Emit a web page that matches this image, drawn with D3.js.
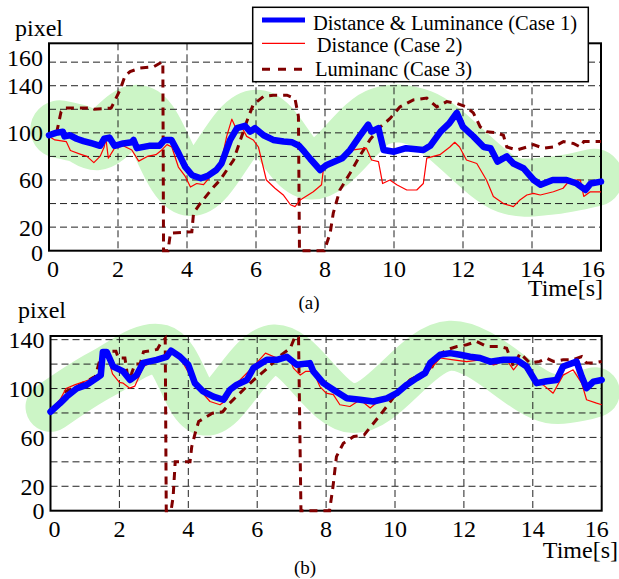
<!DOCTYPE html>
<html>
<head>
<meta charset="utf-8">
<script src="https://cdn.jsdelivr.net/npm/d3@7"></script>
<style>
  html, body { margin: 0; padding: 0; background: #fff; }
  svg { display: block; }
</style>
</head>
<body>
<svg id="chart" width="619" height="579" font-family="'Liberation Serif', 'DejaVu Serif', serif"></svg>
<script>
// ---------------- DATA ----------------
const timeTicks = [0, 2, 4, 6, 8, 10, 12, 14, 16];
const gridA = [20, 40, 60, 80, 100, 120, 140, 160];
const gridB = [20, 40, 60, 80, 100, 120, 140];
const yLabelsA = [160, 140, 100, 60, 20, 0];
const yLabelsB = [140, 100, 60, 20, 0];
const seriesNames = ["Distance & Luminance (Case 1)", "Distance (Case 2)", "Luminanc (Case 3)"];

// Panel (a)
const a1 = [[0,98],[0.2,100],[0.4,101],[0.45,97],[0.6,98],[0.8,95],[1.0,93],[1.25,91],[1.48,89],[1.6,95],[1.75,96],[1.9,89],[2.15,91],[2.4,92],[2.45,94],[2.55,87],[2.9,89],[3.2,89],[3.35,94],[3.55,94],[3.75,83],[3.95,71],[4.15,64],[4.4,61.5],[4.6,63.5],[4.85,68.5],[5.0,74],[5.25,94],[5.45,104],[5.68,106],[5.83,101],[5.97,104],[6.22,98],[6.5,94],[6.8,92.6],[7.05,92],[7.25,89],[7.4,84],[7.57,78],[7.86,68.5],[8.05,72.8],[8.5,78.5],[8.73,85.5],[9.0,97],[9.25,107],[9.35,101],[9.55,104],[9.7,85.5],[10.0,84],[10.35,87],[10.85,85.5],[11.05,89],[11.35,101],[11.6,108],[11.82,117],[12.0,105],[12.3,97],[12.6,88],[12.8,87],[13.0,75.6],[13.27,80],[13.46,74],[13.75,70],[14.05,60],[14.25,56],[14.6,60],[15.0,60],[15.3,57],[15.55,51.5],[15.7,57],[16.0,58.6]];
const a2 = [[0,97],[0.17,94],[0.5,92.6],[0.62,85],[0.9,82],[1.1,80],[1.3,74.7],[1.48,80],[1.6,88],[1.65,95],[1.72,78.5],[1.9,87],[2.15,89],[2.4,85.5],[2.6,76],[2.85,80],[3.1,81.5],[3.27,85.5],[3.42,90],[3.56,88],[3.75,71],[3.95,63],[4.1,54],[4.28,57],[4.48,56],[4.77,66],[4.96,71],[5.15,97],[5.3,111.6],[5.44,102.5],[5.6,104],[5.73,97],[5.92,94],[6.07,88],[6.3,60],[6.55,53],[6.8,47],[7.0,39],[7.13,37.4],[7.28,43],[7.66,50],[7.9,56],[7.96,71],[8.24,75.6],[8.53,81.5],[8.82,85.5],[9.2,87],[9.35,77],[9.55,75.6],[9.67,57],[9.88,60],[10.08,56],[10.37,51.5],[10.66,51.5],[10.85,57],[10.95,78.5],[11.33,81.5],[11.62,88],[11.76,92],[11.9,88],[12.1,77],[12.4,74],[12.68,60],[12.88,46],[13.17,40],[13.46,37.4],[13.65,43],[13.85,47.3],[14.04,48.7],[14.24,47.3],[14.62,50],[14.9,53],[15.1,60],[15.4,60],[15.5,46],[15.69,50],[16.0,50]];
const a3 = [[0.22,100],[0.35,118],[0.45,121],[1.2,121],[1.3,120],[1.8,121],[1.87,125],[2.06,136.5],[2.2,148],[2.35,152],[2.64,155],[3.03,156],[3.3,160.5],[3.32,0],[3.45,0],[3.52,15],[4.14,16],[4.19,32],[4.38,40],[4.77,54],[4.96,60],[5.35,77],[5.73,109.5],[5.92,124],[6.22,131],[6.5,132],[6.9,132],[7.13,129],[7.23,114],[7.26,0],[7.98,0],[8.15,15],[8.24,32],[8.43,51.5],[8.73,66],[9.0,80],[9.3,94],[9.6,105],[9.88,112],[10.17,122],[10.56,128],[10.95,129.5],[11.24,122],[11.53,126.5],[11.82,125],[12.1,122],[12.3,117],[12.5,105],[12.68,101],[12.98,100],[13.17,98],[13.27,88],[13.56,85.5],[13.85,88],[14.04,90],[14.33,87],[14.62,88],[14.91,92.6],[15.2,91],[15.4,88],[15.5,92.6],[16.0,92.6]];
const bandA = [[0.3,103],[0.9,99],[1.4,93],[2.6,116],[4.1,54],[6.0,112],[7.6,68],[9.6,114],[10.8,112],[13.3,56],[14.5,55],[15.8,62]];

// Panel (b)
const b1 = [[0,81],[0.28,88],[0.47,93.4],[0.76,100],[1.05,103],[1.34,108.5],[1.46,111],[1.52,130],[1.63,130],[1.82,118],[2.11,114],[2.31,107],[2.5,111],[2.69,121],[3.08,123.5],[3.37,126],[3.5,131],[3.76,126],[4.0,119.4],[4.19,104.4],[4.43,97.6],[4.73,93.4],[5.02,90.8],[5.21,99],[5.4,103],[5.7,107],[5.89,116.7],[6.28,123.5],[6.57,123.5],[6.86,126],[7.15,119.4],[7.53,120.8],[7.63,114],[7.92,104.4],[8.21,99],[8.6,92],[8.99,90.8],[9.37,89.4],[9.76,92],[10.05,96.2],[10.34,103],[10.63,108.5],[10.87,112.6],[11.02,120.8],[11.31,127.6],[11.6,129],[11.89,127.6],[12.18,126],[12.47,125],[12.76,122],[13.15,123.5],[13.53,123.5],[13.82,118],[14.11,104.4],[14.4,106],[14.69,107],[14.88,118],[15.27,122],[15.42,109.8],[15.56,100.3],[15.76,105.7],[16.0,107]];
const b2 = [[0,82],[0.3,92],[0.45,100],[0.7,103],[1.0,106],[1.3,109],[1.45,112],[1.52,130],[1.63,129],[1.8,112],[2.0,105],[2.11,104.4],[2.3,100.3],[2.45,102],[2.7,118],[3.08,124],[3.4,129],[3.5,129],[3.76,125],[4.07,110],[4.33,99],[4.63,89.4],[4.92,86.7],[5.12,90.8],[5.31,101.6],[5.89,118],[6.24,129],[6.57,125],[6.96,123.5],[7.05,116.7],[7.25,111],[7.4,114],[7.63,114],[7.82,101.6],[8.0,96.2],[8.21,95],[8.4,86.7],[8.69,85.3],[8.99,90.8],[9.28,84],[9.57,90.8],[9.86,93.4],[10.15,99],[10.53,107],[10.92,112.6],[11.31,125],[11.7,123.5],[12.08,122],[12.47,123.5],[12.86,119.4],[13.24,123.5],[13.44,115.3],[13.63,122],[14.01,107],[14.3,103],[14.59,96.2],[14.88,111],[15.17,115.3],[15.42,104.4],[15.56,90.8],[15.85,88],[16.0,86.7]];
const b3 = [[0.4,97],[0.8,102],[1.3,110],[1.45,125],[1.55,130.5],[1.9,130.5],[1.97,125],[2.16,125],[2.25,108],[2.35,112],[2.45,120],[2.6,120],[2.7,130],[3.1,132],[3.2,137],[3.33,141],[3.36,0],[3.5,0],[3.56,11.5],[3.62,40],[4.05,40],[4.1,52.5],[4.2,63.4],[4.3,73],[4.7,79.8],[5.0,81],[5.2,88],[5.6,99],[5.9,107],[6.3,116.7],[6.7,127.6],[6.96,133],[7.1,142.6],[7.2,142],[7.27,0],[8.1,0],[8.2,19.7],[8.3,44.3],[8.5,55.2],[8.8,60.7],[9.1,61.9],[9.3,68.9],[9.57,78.4],[9.76,85.3],[10.05,96.2],[10.44,107.1],[10.73,111.2],[11.02,114],[11.21,126.2],[11.5,131.7],[11.8,134.4],[12.08,135.8],[12.37,138.5],[12.66,134.4],[13.05,134.4],[13.24,133],[13.44,118],[13.63,128.9],[13.92,120.8],[14.2,122.2],[14.4,124.9],[14.6,122.2],[14.88,123.5],[15.17,123.5],[15.42,126.2],[15.56,120.8],[15.76,120.8],[16.0,122.2]];
const bandB = [[0.0,85],[1.5,112],[3.2,132],[4.5,82],[6.5,132],[8.8,84],[11.6,135],[14.5,92],[15.8,97]];

// ---------------- DRAW ----------------
const svg = d3.select("#chart");
const FONT = 24;
const SERIF = "'Liberation Serif', 'DejaVu Serif', serif";

function txt(sel) { return sel.attr("font-family", SERIF).attr("fill", "#000"); }

function panel(cfg) {
  const x = d3.scaleLinear().domain([0, 16]).range([cfg.left, cfg.right]);
  const y = d3.scaleLinear().domain([0, cfg.ymax]).range([cfg.bottom, cfg.top]);
  const g = svg.append("g");

  // green highlight band
  g.append("path")
    .datum(cfg.band)
    .attr("d", d3.line().x(d => x(d[0])).y(d => y(d[1])).curve(d3.curveCatmullRom.alpha(0.5)))
    .attr("fill", "none")
    .attr("stroke", "#ccf5c6")
    .attr("stroke-width", cfg.bandWidth)
    .attr("stroke-linecap", "round")
    .attr("stroke-linejoin", "round");

  // grid
  g.append("g").selectAll("line").data(cfg.grid).join("line")
    .attr("x1", cfg.left).attr("x2", cfg.right)
    .attr("y1", d => y(d)).attr("y2", d => y(d))
    .attr("stroke", "#222").attr("stroke-width", 1).attr("stroke-dasharray", "7,4");
  g.append("g").selectAll("line").data(timeTicks.slice(1, -1)).join("line")
    .attr("x1", d => x(d)).attr("x2", d => x(d))
    .attr("y1", cfg.top).attr("y2", cfg.bottom)
    .attr("stroke", "#222").attr("stroke-width", 1).attr("stroke-dasharray", "7,4");

  // frame
  g.append("rect")
    .attr("x", cfg.left).attr("y", cfg.top)
    .attr("width", cfg.right - cfg.left).attr("height", cfg.bottom - cfg.top)
    .attr("fill", "none").attr("stroke", "#000").attr("stroke-width", 2);

  // y labels
  txt(g.append("g").selectAll("text").data(cfg.yLabels).join("text"))
    .attr("x", cfg.left - 6)
    .attr("y", d => y(d) + (cfg.yLabelDy[d] !== undefined ? cfg.yLabelDy[d] : 8.5))
    .attr("text-anchor", "end")
    .attr("font-size", FONT)
    .text(d => d);

  // x labels
  txt(g.append("g").selectAll("text").data(timeTicks).join("text"))
    .attr("x", d => x(d) + (d === 0 ? 4 : d === 16 ? cfg.last16 : 0))
    .attr("y", cfg.bottom + 26)
    .attr("text-anchor", "middle")
    .attr("font-size", FONT)
    .text(d => d);

  txt(g.append("text")).attr("x", cfg.pixelX).attr("y", cfg.pixelY).attr("font-size", FONT).text("pixel");
  txt(g.append("text")).attr("x", cfg.timeX).attr("y", cfg.timeY).attr("text-anchor", "end").attr("font-size", FONT).text("Time[s]");
  txt(g.append("text")).attr("x", cfg.capX).attr("y", cfg.capY).attr("text-anchor", "middle").attr("font-size", 19).text(cfg.caption);

  // series
  const line = d3.line().x(d => x(d[0])).y(d => y(d[1]));
  g.append("path").datum(cfg.s3).attr("d", line)
    .attr("fill", "none").attr("stroke", "#800000").attr("stroke-width", 3)
    .attr("stroke-dasharray", "8,6");
  g.append("path").datum(cfg.s2).attr("d", line)
    .attr("fill", "none").attr("stroke", "#ff0000").attr("stroke-width", 1.2)
    .attr("stroke-linejoin", "round");
  g.append("path").datum(cfg.s1).attr("d", line)
    .attr("fill", "none").attr("stroke", "#0000ff").attr("stroke-width", 6.5)
    .attr("stroke-linejoin", "round").attr("stroke-linecap", "round");
}

panel({
  left: 49, right: 601, top: 43.3, bottom: 250.7, ymax: 176,
  grid: gridA, yLabels: yLabelsA, yLabelDy: {160: 4, 0: 10},
  band: bandA, bandWidth: 58,
  s1: a1, s2: a2, s3: a3,
  last16: -8,
  pixelX: 15, pixelY: 36, timeX: 603, timeY: 296,
  caption: "(a)", capX: 309, capY: 309
});

panel({
  left: 50.5, right: 601.7, top: 336, bottom: 510.7, ymax: 143,
  grid: gridB, yLabels: yLabelsB, yLabelDy: {},
  band: bandB, bandWidth: 50,
  s1: b1, s2: b2, s3: b3,
  last16: -5,
  pixelX: 18, pixelY: 318, timeX: 618, timeY: 558,
  caption: "(b)", capX: 305, capY: 574
});

// legend (panel a)
const lg = svg.append("g");
lg.append("rect").attr("x", 252.7).attr("y", 7.3).attr("width", 335.6).attr("height", 74.4)
  .attr("fill", "#fff").attr("stroke", "#000").attr("stroke-width", 1.5);
const legendStyles = [
  {color: "#0000ff", width: 5, dash: null, ly: 20, tx: 313, ty: 29.5},
  {color: "#ff0000", width: 1.2, dash: null, ly: 43.3, tx: 316.7, ty: 51.5},
  {color: "#800000", width: 3, dash: "8,8", ly: 69.3, tx: 315, ty: 76}
];
seriesNames.forEach((name, i) => {
  const s = legendStyles[i];
  lg.append("line").attr("x1", 262).attr("x2", 305).attr("y1", s.ly).attr("y2", s.ly)
    .attr("stroke", s.color).attr("stroke-width", s.width)
    .attr("stroke-dasharray", s.dash);
  txt(lg.append("text")).attr("x", s.tx).attr("y", s.ty).attr("font-size", 20.5).text(name);
});
</script>
</body>
</html>
